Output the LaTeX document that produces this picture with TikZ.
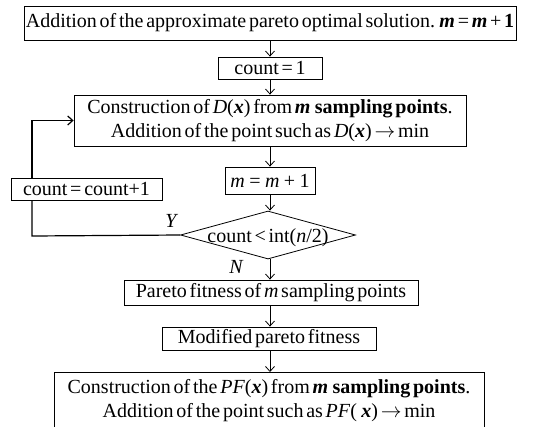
\documentclass[tikz,border=0pt]{standalone}
\usepackage{fontspec}
\setmainfont{Liberation Serif}[WordSpace=0.55]
\usetikzlibrary{arrows.meta, positioning, shapes.geometric}

\tikzset{
  box/.style={draw, line width=0.8pt, inner sep=0pt, align=center},
  tip/.style={-{Straight Barb[length=5pt, width=9pt]}},
  flow/.style={line width=0.8pt, tip},
  loopline/.style={line width=1.2pt},
}
\newcommand{\bmi}[1]{\textbf{\textit{#1}}}
\newcommand{\gap}{\hspace{0.22em}}

\begin{document}
\begin{tikzpicture}[x=1pt, y=-1pt, font=\fontsize{20}{24}\selectfont]
    \useasboundingbox (0,0) rectangle (538,426);
    % main column
    \node[box, minimum width=492pt, minimum height=34pt] (addsol) at (270,23)
         {Addition of the approximate pareto optimal solution. \bmi{m} = \bmi{m} + \textbf{1}};
    \node[box, minimum width=104pt, minimum height=22pt] (cntone) at (270,68) {count = 1};
    \node[box, minimum width=392pt, minimum height=51pt] (constrD) at (270,120.5)
         {Construction of \textit{D}(\bmi{x}) from \bmi{m}\gap\textbf{sampling points}.\\
          Addition of the point such as \textit{D}(\bmi{x}) $\rightarrow$ min};
    \node[box, minimum width=90pt, minimum height=27pt] (mplus) at (270,180.5)
         {\textit{m}\gap=\gap\textit{m}\gap+\gap1};
    \node[draw, line width=0.8pt, diamond, inner sep=0pt, minimum width=175pt,
          minimum height=48pt] (test) at (268,235) {};
    \node at ([yshift=-3pt]test.center) {count < int(\textit{n}/2)};
    \node[box, minimum width=294pt, minimum height=25pt] (pfit) at (271,292.5)
         {Pareto fitness of \textit{m} sampling points};
    \node[box, minimum width=214pt, minimum height=23pt] (modfit) at (269,338.5)
         {Modified pareto fitness};
    \node[box, minimum width=430pt, minimum height=56pt, anchor=north] (constrPF) at (269,372)
         {Construction of the \textit{PF}(\bmi{x}) from \bmi{m}\gap\textbf{sampling points}.\\
          Addition of the point such as \textit{PF}(\gap\bmi{x}) $\rightarrow$ min};
    % arrows
    \draw[flow] (addsol) -- (cntone);
    \draw[flow] (cntone) -- (constrD);
    \draw[flow] (constrD.south -| mplus) -- (mplus);
    \draw[flow] (mplus) -- (mplus |- test.north);
    \draw[flow] (test.south -| mplus) -- (pfit.north -| mplus);
    \draw[flow] (pfit.south -| mplus) -- (modfit.north -| mplus);
    \draw[flow] (modfit.south -| mplus) -- (constrPF.north -| mplus);
    % loop back
    \node[box, minimum width=151pt, minimum height=22pt] (cntinc) at (86.5,189) {count = count+1};
    \coordinate (turn) at (32,236);
    \draw[loopline] (test.west) -- (turn) -- (turn |- cntinc.south);
    \draw[loopline, tip] (turn |- cntinc.north) |- (constrD.west);
    \node[font=\fontsize{20}{24}\itshape] (yes) at (171,221) {Y};
    \node[font=\fontsize{20}{24}\itshape] (no) at (236,267) {N};
\end{tikzpicture}
\end{document}
